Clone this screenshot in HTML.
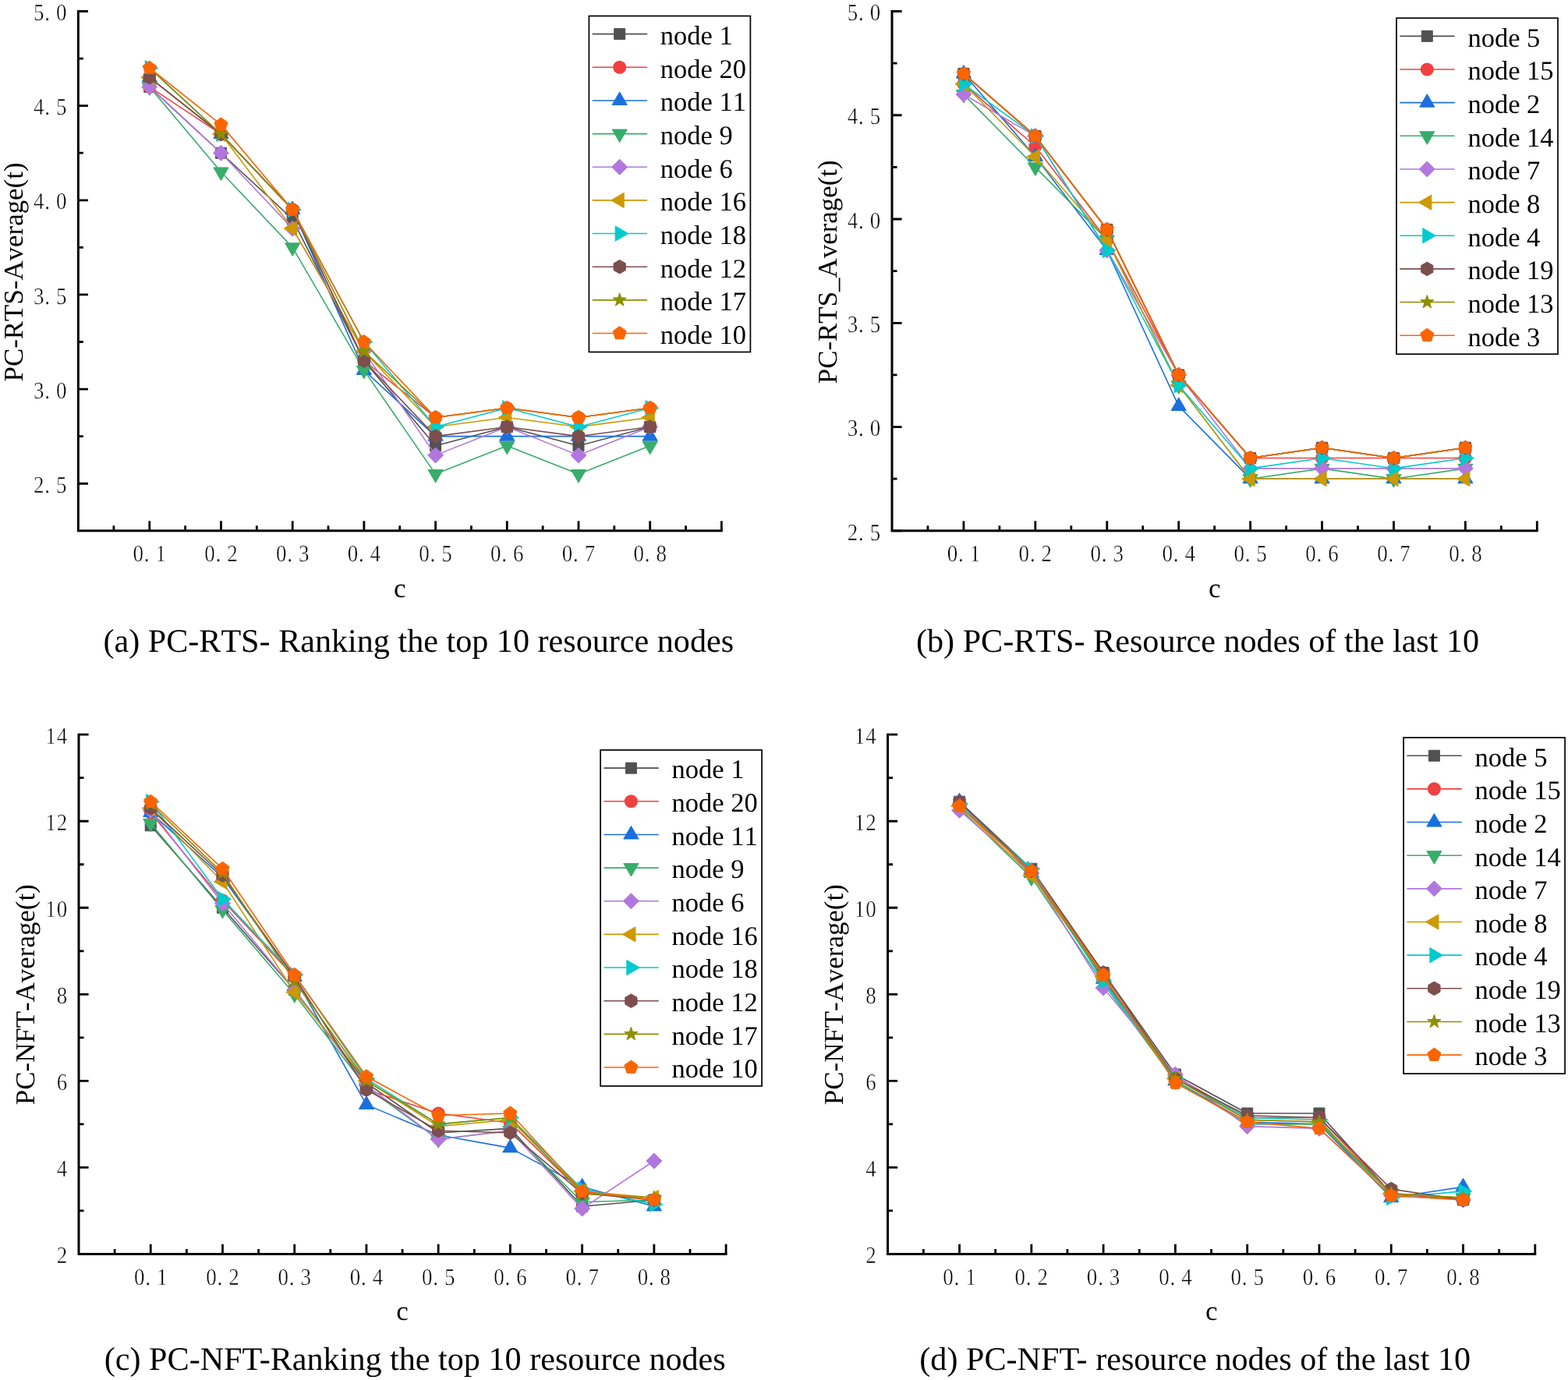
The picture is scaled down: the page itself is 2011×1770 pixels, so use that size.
<!DOCTYPE html>
<html lang="en">
<head>
<meta charset="utf-8">
<title>PC-RTS / PC-NFT average versus c</title>
<style>
html,body{margin:0;padding:0;background:#fff;}
body{width:2011px;height:1770px;overflow:hidden;}
svg{display:block;font-family:"Liberation Serif", serif;fill:#000;}
text{font-kerning:none;font-variant-ligatures:none;text-rendering:geometricPrecision;}
.ln{fill:none;stroke-width:1.6;stroke-linejoin:round;stroke-linecap:butt;}
.ax{fill:none;stroke:#000;stroke-width:3.0;stroke-linejoin:miter;stroke-linecap:butt;}
.tkl{fill:none;stroke:#000;stroke-width:2.8;stroke-linecap:butt;}
.tk{font-size:29px;text-anchor:middle;stroke:#fff;stroke-width:0.45;}
.xt{font-size:35px;text-anchor:middle;}
.yt{font-size:34.9px;text-anchor:middle;}
.lg{font-size:34.5px;}
.cap{font-size:42.15px;}
.lb{fill:#fff;stroke:#000;stroke-width:1.7;}
.mk{stroke-width:1;stroke-linejoin:round;}
.ll{stroke-linecap:round;}
</style>
</head>
<body>
<svg xmlns="http://www.w3.org/2000/svg" width="2011" height="1770" viewBox="0 0 2011 1770">
<rect width="2011" height="1770" fill="#fff"/>
<g id="panel-a">
<g class="series">
<polyline class="ln" stroke="#515151" points="191.76,111.42 283.46,196.22 375.17,281.02 466.87,462.74 558.58,571.77 650.28,547.54 741.99,571.77 833.69,547.54"/>
<rect class="mk" x="184.76" y="104.42" width="14" height="14" fill="#515151" stroke="#515151"/>
<rect class="mk" x="276.46" y="189.22" width="14" height="14" fill="#515151" stroke="#515151"/>
<rect class="mk" x="368.17" y="274.02" width="14" height="14" fill="#515151" stroke="#515151"/>
<rect class="mk" x="459.87" y="455.74" width="14" height="14" fill="#515151" stroke="#515151"/>
<rect class="mk" x="551.58" y="564.77" width="14" height="14" fill="#515151" stroke="#515151"/>
<rect class="mk" x="643.28" y="540.54" width="14" height="14" fill="#515151" stroke="#515151"/>
<rect class="mk" x="734.99" y="564.77" width="14" height="14" fill="#515151" stroke="#515151"/>
<rect class="mk" x="826.69" y="540.54" width="14" height="14" fill="#515151" stroke="#515151"/>
<polyline class="ln" stroke="#F14040" points="191.76,111.42 283.46,171.99 375.17,268.91 466.87,462.74 558.58,535.43 650.28,523.31 741.99,535.43 833.69,523.31"/>
<circle cx="191.76" cy="111.42" r="8.55" fill="#F14040"/>
<circle cx="283.46" cy="171.99" r="8.55" fill="#F14040"/>
<circle cx="375.17" cy="268.91" r="8.55" fill="#F14040"/>
<circle cx="466.87" cy="462.74" r="8.55" fill="#F14040"/>
<circle cx="558.58" cy="535.43" r="8.55" fill="#F14040"/>
<circle cx="650.28" cy="523.31" r="8.55" fill="#F14040"/>
<circle cx="741.99" cy="535.43" r="8.55" fill="#F14040"/>
<circle cx="833.69" cy="523.31" r="8.55" fill="#F14040"/>
<polyline class="ln" stroke="#1A6FDF" points="191.76,99.3 283.46,171.99 375.17,268.91 466.87,474.85 558.58,559.65 650.28,559.65 741.99,559.65 833.69,559.65"/>
<polygon class="mk" points="191.76,88.3 201.36,104.85 182.16,104.85" fill="#1A6FDF" stroke="#1A6FDF"/>
<polygon class="mk" points="283.46,160.99 293.06,177.54 273.86,177.54" fill="#1A6FDF" stroke="#1A6FDF"/>
<polygon class="mk" points="375.17,257.91 384.77,274.46 365.57,274.46" fill="#1A6FDF" stroke="#1A6FDF"/>
<polygon class="mk" points="466.87,463.85 476.47,480.4 457.27,480.4" fill="#1A6FDF" stroke="#1A6FDF"/>
<polygon class="mk" points="558.58,548.65 568.18,565.2 548.98,565.2" fill="#1A6FDF" stroke="#1A6FDF"/>
<polygon class="mk" points="650.28,548.65 659.88,565.2 640.68,565.2" fill="#1A6FDF" stroke="#1A6FDF"/>
<polygon class="mk" points="741.99,548.65 751.59,565.2 732.39,565.2" fill="#1A6FDF" stroke="#1A6FDF"/>
<polygon class="mk" points="833.69,548.65 843.29,565.2 824.09,565.2" fill="#1A6FDF" stroke="#1A6FDF"/>
<polyline class="ln" stroke="#37AD6B" points="191.76,111.42 283.46,220.45 375.17,317.36 466.87,474.85 558.58,608.11 650.28,571.77 741.99,608.11 833.69,571.77"/>
<polygon class="mk" points="191.76,122.42 201.36,105.87 182.16,105.87" fill="#37AD6B" stroke="#37AD6B"/>
<polygon class="mk" points="283.46,231.45 293.06,214.9 273.86,214.9" fill="#37AD6B" stroke="#37AD6B"/>
<polygon class="mk" points="375.17,328.36 384.77,311.81 365.57,311.81" fill="#37AD6B" stroke="#37AD6B"/>
<polygon class="mk" points="466.87,485.85 476.47,469.3 457.27,469.3" fill="#37AD6B" stroke="#37AD6B"/>
<polygon class="mk" points="558.58,619.11 568.18,602.56 548.98,602.56" fill="#37AD6B" stroke="#37AD6B"/>
<polygon class="mk" points="650.28,582.77 659.88,566.22 640.68,566.22" fill="#37AD6B" stroke="#37AD6B"/>
<polygon class="mk" points="741.99,619.11 751.59,602.56 732.39,602.56" fill="#37AD6B" stroke="#37AD6B"/>
<polygon class="mk" points="833.69,582.77 843.29,566.22 824.09,566.22" fill="#37AD6B" stroke="#37AD6B"/>
<polyline class="ln" stroke="#B177DE" points="191.76,111.42 283.46,196.22 375.17,293.13 466.87,450.62 558.58,583.88 650.28,547.54 741.99,583.88 833.69,547.54"/>
<polygon class="mk" points="191.76,101.42 201.76,111.42 191.76,121.42 181.76,111.42" fill="#B177DE" stroke="#B177DE"/>
<polygon class="mk" points="283.46,186.22 293.46,196.22 283.46,206.22 273.46,196.22" fill="#B177DE" stroke="#B177DE"/>
<polygon class="mk" points="375.17,283.13 385.17,293.13 375.17,303.13 365.17,293.13" fill="#B177DE" stroke="#B177DE"/>
<polygon class="mk" points="466.87,440.62 476.87,450.62 466.87,460.62 456.87,450.62" fill="#B177DE" stroke="#B177DE"/>
<polygon class="mk" points="558.58,573.88 568.58,583.88 558.58,593.88 548.58,583.88" fill="#B177DE" stroke="#B177DE"/>
<polygon class="mk" points="650.28,537.54 660.28,547.54 650.28,557.54 640.28,547.54" fill="#B177DE" stroke="#B177DE"/>
<polygon class="mk" points="741.99,573.88 751.99,583.88 741.99,593.88 731.99,583.88" fill="#B177DE" stroke="#B177DE"/>
<polygon class="mk" points="833.69,537.54 843.69,547.54 833.69,557.54 823.69,547.54" fill="#B177DE" stroke="#B177DE"/>
<polyline class="ln" stroke="#CC9900" points="191.76,99.3 283.46,171.99 375.17,293.13 466.87,450.62 558.58,547.54 650.28,535.43 741.99,547.54 833.69,535.43"/>
<polygon class="mk" points="180.76,99.3 197.31,89.7 197.31,108.9" fill="#CC9900" stroke="#CC9900"/>
<polygon class="mk" points="272.46,171.99 289.01,162.39 289.01,181.59" fill="#CC9900" stroke="#CC9900"/>
<polygon class="mk" points="364.17,293.13 380.72,283.53 380.72,302.73" fill="#CC9900" stroke="#CC9900"/>
<polygon class="mk" points="455.87,450.62 472.42,441.02 472.42,460.22" fill="#CC9900" stroke="#CC9900"/>
<polygon class="mk" points="547.58,547.54 564.13,537.94 564.13,557.14" fill="#CC9900" stroke="#CC9900"/>
<polygon class="mk" points="639.28,535.43 655.83,525.83 655.83,545.03" fill="#CC9900" stroke="#CC9900"/>
<polygon class="mk" points="730.99,547.54 747.54,537.94 747.54,557.14" fill="#CC9900" stroke="#CC9900"/>
<polygon class="mk" points="822.69,535.43 839.24,525.83 839.24,545.03" fill="#CC9900" stroke="#CC9900"/>
<polyline class="ln" stroke="#00CBCC" points="191.76,87.19 283.46,171.99 375.17,268.91 466.87,438.51 558.58,547.54 650.28,523.31 741.99,547.54 833.69,523.31"/>
<polygon class="mk" points="202.76,87.19 186.21,77.59 186.21,96.79" fill="#00CBCC" stroke="#00CBCC"/>
<polygon class="mk" points="294.46,171.99 277.91,162.39 277.91,181.59" fill="#00CBCC" stroke="#00CBCC"/>
<polygon class="mk" points="386.17,268.91 369.62,259.31 369.62,278.51" fill="#00CBCC" stroke="#00CBCC"/>
<polygon class="mk" points="477.87,438.51 461.32,428.91 461.32,448.11" fill="#00CBCC" stroke="#00CBCC"/>
<polygon class="mk" points="569.58,547.54 553.03,537.94 553.03,557.14" fill="#00CBCC" stroke="#00CBCC"/>
<polygon class="mk" points="661.28,523.31 644.73,513.71 644.73,532.91" fill="#00CBCC" stroke="#00CBCC"/>
<polygon class="mk" points="752.99,547.54 736.44,537.94 736.44,557.14" fill="#00CBCC" stroke="#00CBCC"/>
<polygon class="mk" points="844.69,523.31 828.14,513.71 828.14,532.91" fill="#00CBCC" stroke="#00CBCC"/>
<polyline class="ln" stroke="#7D4E4E" points="191.76,99.3 283.46,171.99 375.17,268.91 466.87,462.74 558.58,559.65 650.28,547.54 741.99,559.65 833.69,547.54"/>
<polygon class="mk" points="191.76,90.5 199.38,94.9 199.38,103.7 191.76,108.1 184.13,103.7 184.13,94.9" fill="#7D4E4E" stroke="#7D4E4E"/>
<polygon class="mk" points="283.46,163.19 291.08,167.59 291.08,176.39 283.46,180.79 275.84,176.39 275.84,167.59" fill="#7D4E4E" stroke="#7D4E4E"/>
<polygon class="mk" points="375.17,260.11 382.79,264.51 382.79,273.31 375.17,277.71 367.55,273.31 367.55,264.51" fill="#7D4E4E" stroke="#7D4E4E"/>
<polygon class="mk" points="466.87,453.94 474.49,458.34 474.49,467.14 466.87,471.54 459.25,467.14 459.25,458.34" fill="#7D4E4E" stroke="#7D4E4E"/>
<polygon class="mk" points="558.58,550.85 566.2,555.25 566.2,564.05 558.58,568.45 550.96,564.05 550.96,555.25" fill="#7D4E4E" stroke="#7D4E4E"/>
<polygon class="mk" points="650.28,538.74 657.9,543.14 657.9,551.94 650.28,556.34 642.66,551.94 642.66,543.14" fill="#7D4E4E" stroke="#7D4E4E"/>
<polygon class="mk" points="741.99,550.85 749.61,555.25 749.61,564.05 741.99,568.45 734.37,564.05 734.37,555.25" fill="#7D4E4E" stroke="#7D4E4E"/>
<polygon class="mk" points="833.69,538.74 841.32,543.14 841.32,551.94 833.69,556.34 826.07,551.94 826.07,543.14" fill="#7D4E4E" stroke="#7D4E4E"/>
<polyline class="ln" stroke="#8E8E00" points="191.76,87.19 283.46,171.99 375.17,268.91 466.87,450.62 558.58,535.43 650.28,523.31 741.99,535.43 833.69,523.31"/>
<polygon class="mk" points="191.76,78.09 193.9,84.23 200.41,84.38 195.23,88.32 197.1,94.55 191.76,90.84 186.41,94.55 188.28,88.32 183.1,84.38 189.61,84.23" fill="#8E8E00" stroke="#8E8E00"/>
<polygon class="mk" points="283.46,162.89 285.61,169.04 292.12,169.18 286.93,173.12 288.81,179.35 283.46,175.64 278.11,179.35 279.99,173.12 274.81,169.18 281.32,169.04" fill="#8E8E00" stroke="#8E8E00"/>
<polygon class="mk" points="375.17,259.81 377.31,265.95 383.82,266.09 378.64,270.03 380.52,276.27 375.17,272.56 369.82,276.27 371.7,270.03 366.51,266.09 373.02,265.95" fill="#8E8E00" stroke="#8E8E00"/>
<polygon class="mk" points="466.87,441.52 469.02,447.67 475.53,447.81 470.34,451.75 472.22,457.99 466.87,454.27 461.52,457.99 463.4,451.75 458.22,447.81 464.73,447.67" fill="#8E8E00" stroke="#8E8E00"/>
<polygon class="mk" points="558.58,526.33 560.72,532.47 567.23,532.61 562.05,536.55 563.93,542.79 558.58,539.08 553.23,542.79 555.11,536.55 549.92,532.61 556.43,532.47" fill="#8E8E00" stroke="#8E8E00"/>
<polygon class="mk" points="650.28,514.21 652.43,520.36 658.94,520.5 653.75,524.44 655.63,530.67 650.28,526.96 644.93,530.67 646.81,524.44 641.63,520.5 648.14,520.36" fill="#8E8E00" stroke="#8E8E00"/>
<polygon class="mk" points="741.99,526.33 744.13,532.47 750.64,532.61 745.46,536.55 747.34,542.79 741.99,539.08 736.64,542.79 738.52,536.55 733.33,532.61 739.84,532.47" fill="#8E8E00" stroke="#8E8E00"/>
<polygon class="mk" points="833.69,514.21 835.84,520.36 842.35,520.5 837.17,524.44 839.04,530.67 833.69,526.96 828.35,530.67 830.22,524.44 825.04,520.5 831.55,520.36" fill="#8E8E00" stroke="#8E8E00"/>
<polyline class="ln" stroke="#FB6501" points="191.76,87.19 283.46,159.87 375.17,268.91 466.87,438.51 558.58,535.43 650.28,523.31 741.99,535.43 833.69,523.31"/>
<polygon class="mk" points="191.76,78.19 200.32,84.41 197.05,94.47 186.47,94.47 183.2,84.41" fill="#FB6501" stroke="#FB6501"/>
<polygon class="mk" points="283.46,150.87 292.02,157.09 288.75,167.16 278.17,167.16 274.9,157.09" fill="#FB6501" stroke="#FB6501"/>
<polygon class="mk" points="375.17,259.91 383.73,266.12 380.46,276.19 369.88,276.19 366.61,266.12" fill="#FB6501" stroke="#FB6501"/>
<polygon class="mk" points="466.87,429.51 475.43,435.73 472.16,445.79 461.58,445.79 458.31,435.73" fill="#FB6501" stroke="#FB6501"/>
<polygon class="mk" points="558.58,526.43 567.14,532.64 563.87,542.71 553.29,542.71 550.02,532.64" fill="#FB6501" stroke="#FB6501"/>
<polygon class="mk" points="650.28,514.31 658.84,520.53 655.57,530.59 644.99,530.59 641.72,520.53" fill="#FB6501" stroke="#FB6501"/>
<polygon class="mk" points="741.99,526.43 750.55,532.64 747.28,542.71 736.7,542.71 733.43,532.64" fill="#FB6501" stroke="#FB6501"/>
<polygon class="mk" points="833.69,514.31 842.25,520.53 838.98,530.59 828.4,530.59 825.13,520.53" fill="#FB6501" stroke="#FB6501"/>
</g>
<path class="ax" d="M100.35 13.1V680.8H926.8"/>
<path class="tkl" d="M100.35 14.5h12.6M100.35 135.65h12.6M100.35 256.79h12.6M100.35 377.94h12.6M100.35 499.08h12.6M100.35 620.23h12.6M100.35 75.07h6.5M100.35 196.22h6.5M100.35 317.36h6.5M100.35 438.51h6.5M100.35 559.65h6.5M145.9 680.8v-6.5M191.76 680.8v-12.6M237.61 680.8v-6.5M283.46 680.8v-12.6M329.31 680.8v-6.5M375.17 680.8v-12.6M421.02 680.8v-6.5M466.87 680.8v-12.6M512.73 680.8v-6.5M558.58 680.8v-12.6M604.43 680.8v-6.5M650.28 680.8v-12.6M696.14 680.8v-6.5M741.99 680.8v-12.6M787.84 680.8v-6.5M833.69 680.8v-12.6M879.55 680.8v-6.5M925.4 680.8v-12.6"/>
<text class="tk" transform="translate(64.3 26.2) scale(0.93 1.05)" x="-15.59 -3.87 15.59" y="0">5.0</text>
<text class="tk" transform="translate(64.3 147.35) scale(0.93 1.05)" x="-15.59 -3.87 15.59" y="0">4.5</text>
<text class="tk" transform="translate(64.3 268.49) scale(0.93 1.05)" x="-15.59 -3.87 15.59" y="0">4.0</text>
<text class="tk" transform="translate(64.3 389.64) scale(0.93 1.05)" x="-15.59 -3.87 15.59" y="0">3.5</text>
<text class="tk" transform="translate(64.3 510.78) scale(0.93 1.05)" x="-15.59 -3.87 15.59" y="0">3.0</text>
<text class="tk" transform="translate(64.3 631.93) scale(0.93 1.05)" x="-15.59 -3.87 15.59" y="0">2.5</text>
<text class="tk" transform="translate(191.76 720.4) scale(0.93 1.05)" x="-15.59 -3.87 15.59" y="0">0.1</text>
<text class="tk" transform="translate(283.46 720.4) scale(0.93 1.05)" x="-15.59 -3.87 15.59" y="0">0.2</text>
<text class="tk" transform="translate(375.17 720.4) scale(0.93 1.05)" x="-15.59 -3.87 15.59" y="0">0.3</text>
<text class="tk" transform="translate(466.87 720.4) scale(0.93 1.05)" x="-15.59 -3.87 15.59" y="0">0.4</text>
<text class="tk" transform="translate(558.58 720.4) scale(0.93 1.05)" x="-15.59 -3.87 15.59" y="0">0.5</text>
<text class="tk" transform="translate(650.28 720.4) scale(0.93 1.05)" x="-15.59 -3.87 15.59" y="0">0.6</text>
<text class="tk" transform="translate(741.99 720.4) scale(0.93 1.05)" x="-15.59 -3.87 15.59" y="0">0.7</text>
<text class="tk" transform="translate(833.69 720.4) scale(0.93 1.05)" x="-15.59 -3.87 15.59" y="0">0.8</text>
<text class="xt" x="512.88" y="765.8">c</text>
<text class="yt" transform="translate(28.7 349) rotate(-90)">PC-RTS-Average(t)</text>
<text class="cap" x="132.4" y="835.6">(a) PC-RTS- Ranking the top 10 resource nodes</text>
<g class="legend">
<rect class="lb" x="755.4" y="20.5" width="207" height="431"/>
<path class="ln ll" stroke="#515151" d="M760.3 43.65H829.5"/>
<rect class="mk" x="787.7" y="36.65" width="14" height="14" fill="#515151" stroke="#515151"/>
<text class="lg" x="846.8" y="56.95">node 1</text>
<path class="ln ll" stroke="#F14040" d="M760.3 86.3H829.5"/>
<circle cx="794.7" cy="86.3" r="8.55" fill="#F14040"/>
<text class="lg" x="846.8" y="99.6">node 20</text>
<path class="ln ll" stroke="#1A6FDF" d="M760.3 128.95H829.5"/>
<polygon class="mk" points="794.7,117.95 804.3,134.5 785.1,134.5" fill="#1A6FDF" stroke="#1A6FDF"/>
<text class="lg" x="846.8" y="142.25">node 11</text>
<path class="ln ll" stroke="#37AD6B" d="M760.3 171.6H829.5"/>
<polygon class="mk" points="794.7,182.6 804.3,166.05 785.1,166.05" fill="#37AD6B" stroke="#37AD6B"/>
<text class="lg" x="846.8" y="184.9">node 9</text>
<path class="ln ll" stroke="#B177DE" d="M760.3 214.25H829.5"/>
<polygon class="mk" points="794.7,204.25 804.7,214.25 794.7,224.25 784.7,214.25" fill="#B177DE" stroke="#B177DE"/>
<text class="lg" x="846.8" y="227.55">node 6</text>
<path class="ln ll" stroke="#CC9900" d="M760.3 256.9H829.5"/>
<polygon class="mk" points="783.7,256.9 800.25,247.3 800.25,266.5" fill="#CC9900" stroke="#CC9900"/>
<text class="lg" x="846.8" y="270.2">node 16</text>
<path class="ln ll" stroke="#00CBCC" d="M760.3 299.55H829.5"/>
<polygon class="mk" points="805.7,299.55 789.15,289.95 789.15,309.15" fill="#00CBCC" stroke="#00CBCC"/>
<text class="lg" x="846.8" y="312.85">node 18</text>
<path class="ln ll" stroke="#7D4E4E" d="M760.3 342.2H829.5"/>
<polygon class="mk" points="794.7,333.4 802.32,337.8 802.32,346.6 794.7,351 787.08,346.6 787.08,337.8" fill="#7D4E4E" stroke="#7D4E4E"/>
<text class="lg" x="846.8" y="355.5">node 12</text>
<path class="ln ll" stroke="#8E8E00" d="M760.3 384.85H829.5"/>
<polygon class="mk" points="794.7,375.75 796.85,381.9 803.35,382.04 798.17,385.98 800.05,392.21 794.7,388.5 789.35,392.21 791.23,385.98 786.05,382.04 792.55,381.9" fill="#8E8E00" stroke="#8E8E00"/>
<text class="lg" x="846.8" y="398.15">node 17</text>
<path class="ln ll" stroke="#FB6501" d="M760.3 427.5H829.5"/>
<polygon class="mk" points="794.7,418.5 803.26,424.72 799.99,434.78 789.41,434.78 786.14,424.72" fill="#FB6501" stroke="#FB6501"/>
<text class="lg" x="846.8" y="440.8">node 10</text>
</g>
</g>
<g id="panel-b">
<g class="series">
<polyline class="ln" stroke="#515151" points="1235.92,94.46 1327.84,174.41 1419.77,294.35 1511.69,480.91 1603.61,587.52 1695.53,574.19 1787.46,587.52 1879.38,574.19"/>
<rect class="mk" x="1228.92" y="87.46" width="14" height="14" fill="#515151" stroke="#515151"/>
<rect class="mk" x="1320.84" y="167.41" width="14" height="14" fill="#515151" stroke="#515151"/>
<rect class="mk" x="1412.77" y="287.35" width="14" height="14" fill="#515151" stroke="#515151"/>
<rect class="mk" x="1504.69" y="473.91" width="14" height="14" fill="#515151" stroke="#515151"/>
<rect class="mk" x="1596.61" y="580.52" width="14" height="14" fill="#515151" stroke="#515151"/>
<rect class="mk" x="1688.53" y="567.19" width="14" height="14" fill="#515151" stroke="#515151"/>
<rect class="mk" x="1780.46" y="580.52" width="14" height="14" fill="#515151" stroke="#515151"/>
<rect class="mk" x="1872.38" y="567.19" width="14" height="14" fill="#515151" stroke="#515151"/>
<polyline class="ln" stroke="#F14040" points="1235.92,107.78 1327.84,187.74 1419.77,307.67 1511.69,480.91 1603.61,587.52 1695.53,587.52 1787.46,587.52 1879.38,587.52"/>
<circle cx="1235.92" cy="107.78" r="8.55" fill="#F14040"/>
<circle cx="1327.84" cy="187.74" r="8.55" fill="#F14040"/>
<circle cx="1419.77" cy="307.67" r="8.55" fill="#F14040"/>
<circle cx="1511.69" cy="480.91" r="8.55" fill="#F14040"/>
<circle cx="1603.61" cy="587.52" r="8.55" fill="#F14040"/>
<circle cx="1695.53" cy="587.52" r="8.55" fill="#F14040"/>
<circle cx="1787.46" cy="587.52" r="8.55" fill="#F14040"/>
<circle cx="1879.38" cy="587.52" r="8.55" fill="#F14040"/>
<polyline class="ln" stroke="#1A6FDF" points="1235.92,94.46 1327.84,201.06 1419.77,321 1511.69,520.89 1603.61,614.17 1695.53,614.17 1787.46,614.17 1879.38,614.17"/>
<polygon class="mk" points="1235.92,83.46 1245.52,100.01 1226.32,100.01" fill="#1A6FDF" stroke="#1A6FDF"/>
<polygon class="mk" points="1327.84,190.06 1337.44,206.61 1318.24,206.61" fill="#1A6FDF" stroke="#1A6FDF"/>
<polygon class="mk" points="1419.77,310 1429.37,326.55 1410.17,326.55" fill="#1A6FDF" stroke="#1A6FDF"/>
<polygon class="mk" points="1511.69,509.89 1521.29,526.44 1502.09,526.44" fill="#1A6FDF" stroke="#1A6FDF"/>
<polygon class="mk" points="1603.61,603.17 1613.21,619.72 1594.01,619.72" fill="#1A6FDF" stroke="#1A6FDF"/>
<polygon class="mk" points="1695.53,603.17 1705.13,619.72 1685.93,619.72" fill="#1A6FDF" stroke="#1A6FDF"/>
<polygon class="mk" points="1787.46,603.17 1797.06,619.72 1777.86,619.72" fill="#1A6FDF" stroke="#1A6FDF"/>
<polygon class="mk" points="1879.38,603.17 1888.98,619.72 1869.78,619.72" fill="#1A6FDF" stroke="#1A6FDF"/>
<polyline class="ln" stroke="#37AD6B" points="1235.92,121.11 1327.84,214.39 1419.77,307.67 1511.69,494.24 1603.61,614.17 1695.53,600.84 1787.46,614.17 1879.38,600.84"/>
<polygon class="mk" points="1235.92,132.11 1245.52,115.56 1226.32,115.56" fill="#37AD6B" stroke="#37AD6B"/>
<polygon class="mk" points="1327.84,225.39 1337.44,208.84 1318.24,208.84" fill="#37AD6B" stroke="#37AD6B"/>
<polygon class="mk" points="1419.77,318.67 1429.37,302.12 1410.17,302.12" fill="#37AD6B" stroke="#37AD6B"/>
<polygon class="mk" points="1511.69,505.24 1521.29,488.69 1502.09,488.69" fill="#37AD6B" stroke="#37AD6B"/>
<polygon class="mk" points="1603.61,625.17 1613.21,608.62 1594.01,608.62" fill="#37AD6B" stroke="#37AD6B"/>
<polygon class="mk" points="1695.53,611.84 1705.13,595.29 1685.93,595.29" fill="#37AD6B" stroke="#37AD6B"/>
<polygon class="mk" points="1787.46,625.17 1797.06,608.62 1777.86,608.62" fill="#37AD6B" stroke="#37AD6B"/>
<polygon class="mk" points="1879.38,611.84 1888.98,595.29 1869.78,595.29" fill="#37AD6B" stroke="#37AD6B"/>
<polyline class="ln" stroke="#B177DE" points="1235.92,121.11 1327.84,174.41 1419.77,321 1511.69,480.91 1603.61,600.84 1695.53,600.84 1787.46,600.84 1879.38,600.84"/>
<polygon class="mk" points="1235.92,111.11 1245.92,121.11 1235.92,131.11 1225.92,121.11" fill="#B177DE" stroke="#B177DE"/>
<polygon class="mk" points="1327.84,164.41 1337.84,174.41 1327.84,184.41 1317.84,174.41" fill="#B177DE" stroke="#B177DE"/>
<polygon class="mk" points="1419.77,311 1429.77,321 1419.77,331 1409.77,321" fill="#B177DE" stroke="#B177DE"/>
<polygon class="mk" points="1511.69,470.91 1521.69,480.91 1511.69,490.91 1501.69,480.91" fill="#B177DE" stroke="#B177DE"/>
<polygon class="mk" points="1603.61,590.84 1613.61,600.84 1603.61,610.84 1593.61,600.84" fill="#B177DE" stroke="#B177DE"/>
<polygon class="mk" points="1695.53,590.84 1705.53,600.84 1695.53,610.84 1685.53,600.84" fill="#B177DE" stroke="#B177DE"/>
<polygon class="mk" points="1787.46,590.84 1797.46,600.84 1787.46,610.84 1777.46,600.84" fill="#B177DE" stroke="#B177DE"/>
<polygon class="mk" points="1879.38,590.84 1889.38,600.84 1879.38,610.84 1869.38,600.84" fill="#B177DE" stroke="#B177DE"/>
<polyline class="ln" stroke="#CC9900" points="1235.92,107.78 1327.84,201.06 1419.77,307.67 1511.69,494.24 1603.61,614.17 1695.53,614.17 1787.46,614.17 1879.38,614.17"/>
<polygon class="mk" points="1224.92,107.78 1241.47,98.18 1241.47,117.38" fill="#CC9900" stroke="#CC9900"/>
<polygon class="mk" points="1316.84,201.06 1333.39,191.46 1333.39,210.66" fill="#CC9900" stroke="#CC9900"/>
<polygon class="mk" points="1408.77,307.67 1425.32,298.07 1425.32,317.27" fill="#CC9900" stroke="#CC9900"/>
<polygon class="mk" points="1500.69,494.24 1517.24,484.64 1517.24,503.84" fill="#CC9900" stroke="#CC9900"/>
<polygon class="mk" points="1592.61,614.17 1609.16,604.57 1609.16,623.77" fill="#CC9900" stroke="#CC9900"/>
<polygon class="mk" points="1684.53,614.17 1701.08,604.57 1701.08,623.77" fill="#CC9900" stroke="#CC9900"/>
<polygon class="mk" points="1776.46,614.17 1793.01,604.57 1793.01,623.77" fill="#CC9900" stroke="#CC9900"/>
<polygon class="mk" points="1868.38,614.17 1884.93,604.57 1884.93,623.77" fill="#CC9900" stroke="#CC9900"/>
<polyline class="ln" stroke="#00CBCC" points="1235.92,107.78 1327.84,174.41 1419.77,321 1511.69,494.24 1603.61,600.84 1695.53,587.52 1787.46,600.84 1879.38,587.52"/>
<polygon class="mk" points="1246.92,107.78 1230.37,98.18 1230.37,117.38" fill="#00CBCC" stroke="#00CBCC"/>
<polygon class="mk" points="1338.84,174.41 1322.29,164.81 1322.29,184.01" fill="#00CBCC" stroke="#00CBCC"/>
<polygon class="mk" points="1430.77,321 1414.22,311.4 1414.22,330.6" fill="#00CBCC" stroke="#00CBCC"/>
<polygon class="mk" points="1522.69,494.24 1506.14,484.64 1506.14,503.84" fill="#00CBCC" stroke="#00CBCC"/>
<polygon class="mk" points="1614.61,600.84 1598.06,591.24 1598.06,610.44" fill="#00CBCC" stroke="#00CBCC"/>
<polygon class="mk" points="1706.53,587.52 1689.98,577.92 1689.98,597.12" fill="#00CBCC" stroke="#00CBCC"/>
<polygon class="mk" points="1798.46,600.84 1781.91,591.24 1781.91,610.44" fill="#00CBCC" stroke="#00CBCC"/>
<polygon class="mk" points="1890.38,587.52 1873.83,577.92 1873.83,597.12" fill="#00CBCC" stroke="#00CBCC"/>
<polyline class="ln" stroke="#7D4E4E" points="1235.92,94.46 1327.84,174.41 1419.77,294.35 1511.69,480.91 1603.61,587.52 1695.53,574.19 1787.46,587.52 1879.38,574.19"/>
<polygon class="mk" points="1235.92,85.66 1243.54,90.06 1243.54,98.86 1235.92,103.26 1228.3,98.86 1228.3,90.06" fill="#7D4E4E" stroke="#7D4E4E"/>
<polygon class="mk" points="1327.84,165.61 1335.47,170.01 1335.47,178.81 1327.84,183.21 1320.22,178.81 1320.22,170.01" fill="#7D4E4E" stroke="#7D4E4E"/>
<polygon class="mk" points="1419.77,285.55 1427.39,289.95 1427.39,298.75 1419.77,303.15 1412.15,298.75 1412.15,289.95" fill="#7D4E4E" stroke="#7D4E4E"/>
<polygon class="mk" points="1511.69,472.11 1519.31,476.51 1519.31,485.31 1511.69,489.71 1504.07,485.31 1504.07,476.51" fill="#7D4E4E" stroke="#7D4E4E"/>
<polygon class="mk" points="1603.61,578.72 1611.23,583.12 1611.23,591.92 1603.61,596.32 1595.99,591.92 1595.99,583.12" fill="#7D4E4E" stroke="#7D4E4E"/>
<polygon class="mk" points="1695.53,565.39 1703.15,569.79 1703.15,578.59 1695.53,582.99 1687.91,578.59 1687.91,569.79" fill="#7D4E4E" stroke="#7D4E4E"/>
<polygon class="mk" points="1787.46,578.72 1795.08,583.12 1795.08,591.92 1787.46,596.32 1779.83,591.92 1779.83,583.12" fill="#7D4E4E" stroke="#7D4E4E"/>
<polygon class="mk" points="1879.38,565.39 1887,569.79 1887,578.59 1879.38,582.99 1871.76,578.59 1871.76,569.79" fill="#7D4E4E" stroke="#7D4E4E"/>
<polyline class="ln" stroke="#8E8E00" points="1235.92,94.46 1327.84,174.41 1419.77,294.35 1511.69,480.91 1603.61,587.52 1695.53,574.19 1787.46,587.52 1879.38,574.19"/>
<polygon class="mk" points="1235.92,85.36 1238.07,91.5 1244.58,91.64 1239.39,95.58 1241.27,101.82 1235.92,98.11 1230.57,101.82 1232.45,95.58 1227.27,91.64 1233.78,91.5" fill="#8E8E00" stroke="#8E8E00"/>
<polygon class="mk" points="1327.84,165.31 1329.99,171.46 1336.5,171.6 1331.32,175.54 1333.19,181.77 1327.84,178.06 1322.5,181.77 1324.37,175.54 1319.19,171.6 1325.7,171.46" fill="#8E8E00" stroke="#8E8E00"/>
<polygon class="mk" points="1419.77,285.25 1421.91,291.39 1428.42,291.53 1423.24,295.47 1425.12,301.71 1419.77,298 1414.42,301.71 1416.3,295.47 1411.11,291.53 1417.62,291.39" fill="#8E8E00" stroke="#8E8E00"/>
<polygon class="mk" points="1511.69,471.81 1513.83,477.96 1520.34,478.1 1515.16,482.04 1517.04,488.27 1511.69,484.56 1506.34,488.27 1508.22,482.04 1503.03,478.1 1509.54,477.96" fill="#8E8E00" stroke="#8E8E00"/>
<polygon class="mk" points="1603.61,578.42 1605.76,584.57 1612.27,584.71 1607.08,588.65 1608.96,594.88 1603.61,591.17 1598.26,594.88 1600.14,588.65 1594.96,584.71 1601.47,584.57" fill="#8E8E00" stroke="#8E8E00"/>
<polygon class="mk" points="1695.53,565.09 1697.68,571.24 1704.19,571.38 1699,575.32 1700.88,581.55 1695.53,577.84 1690.18,581.55 1692.06,575.32 1686.88,571.38 1693.39,571.24" fill="#8E8E00" stroke="#8E8E00"/>
<polygon class="mk" points="1787.46,578.42 1789.6,584.57 1796.11,584.71 1790.93,588.65 1792.8,594.88 1787.46,591.17 1782.11,594.88 1783.98,588.65 1778.8,584.71 1785.31,584.57" fill="#8E8E00" stroke="#8E8E00"/>
<polygon class="mk" points="1879.38,565.09 1881.52,571.24 1888.03,571.38 1882.85,575.32 1884.73,581.55 1879.38,577.84 1874.03,581.55 1875.91,575.32 1870.72,571.38 1877.23,571.24" fill="#8E8E00" stroke="#8E8E00"/>
<polyline class="ln" stroke="#FB6501" points="1235.92,94.46 1327.84,174.41 1419.77,294.35 1511.69,480.91 1603.61,587.52 1695.53,574.19 1787.46,587.52 1879.38,574.19"/>
<polygon class="mk" points="1235.92,85.46 1244.48,91.67 1241.21,101.74 1230.63,101.74 1227.36,91.67" fill="#FB6501" stroke="#FB6501"/>
<polygon class="mk" points="1327.84,165.41 1336.4,171.63 1333.13,181.69 1322.55,181.69 1319.28,171.63" fill="#FB6501" stroke="#FB6501"/>
<polygon class="mk" points="1419.77,285.35 1428.33,291.56 1425.06,301.63 1414.48,301.63 1411.21,291.56" fill="#FB6501" stroke="#FB6501"/>
<polygon class="mk" points="1511.69,471.91 1520.25,478.13 1516.98,488.19 1506.4,488.19 1503.13,478.13" fill="#FB6501" stroke="#FB6501"/>
<polygon class="mk" points="1603.61,578.52 1612.17,584.74 1608.9,594.8 1598.32,594.8 1595.05,584.74" fill="#FB6501" stroke="#FB6501"/>
<polygon class="mk" points="1695.53,565.19 1704.09,571.41 1700.82,581.47 1690.24,581.47 1686.97,571.41" fill="#FB6501" stroke="#FB6501"/>
<polygon class="mk" points="1787.46,578.52 1796.02,584.74 1792.75,594.8 1782.17,594.8 1778.9,584.74" fill="#FB6501" stroke="#FB6501"/>
<polygon class="mk" points="1879.38,565.19 1887.94,571.41 1884.67,581.47 1874.09,581.47 1870.82,571.41" fill="#FB6501" stroke="#FB6501"/>
</g>
<path class="ax" d="M1144 13.1V680.8H1972.7"/>
<path class="tkl" d="M1144 14.5h12.6M1144 147.76h12.6M1144 281.02h12.6M1144 414.28h12.6M1144 547.54h12.6M1144 680.8h12.6M1144 81.13h6.5M1144 214.39h6.5M1144 347.65h6.5M1144 480.91h6.5M1144 614.17h6.5M1189.96 680.8v-6.5M1235.92 680.8v-12.6M1281.88 680.8v-6.5M1327.84 680.8v-12.6M1373.81 680.8v-6.5M1419.77 680.8v-12.6M1465.73 680.8v-6.5M1511.69 680.8v-12.6M1557.65 680.8v-6.5M1603.61 680.8v-12.6M1649.57 680.8v-6.5M1695.53 680.8v-12.6M1741.49 680.8v-6.5M1787.46 680.8v-12.6M1833.42 680.8v-6.5M1879.38 680.8v-12.6M1925.34 680.8v-6.5M1971.3 680.8v-12.6"/>
<text class="tk" transform="translate(1107.95 26.2) scale(0.93 1.05)" x="-15.59 -3.87 15.59" y="0">5.0</text>
<text class="tk" transform="translate(1107.95 159.46) scale(0.93 1.05)" x="-15.59 -3.87 15.59" y="0">4.5</text>
<text class="tk" transform="translate(1107.95 292.72) scale(0.93 1.05)" x="-15.59 -3.87 15.59" y="0">4.0</text>
<text class="tk" transform="translate(1107.95 425.98) scale(0.93 1.05)" x="-15.59 -3.87 15.59" y="0">3.5</text>
<text class="tk" transform="translate(1107.95 559.24) scale(0.93 1.05)" x="-15.59 -3.87 15.59" y="0">3.0</text>
<text class="tk" transform="translate(1107.95 692.5) scale(0.93 1.05)" x="-15.59 -3.87 15.59" y="0">2.5</text>
<text class="tk" transform="translate(1235.92 720.4) scale(0.93 1.05)" x="-15.59 -3.87 15.59" y="0">0.1</text>
<text class="tk" transform="translate(1327.84 720.4) scale(0.93 1.05)" x="-15.59 -3.87 15.59" y="0">0.2</text>
<text class="tk" transform="translate(1419.77 720.4) scale(0.93 1.05)" x="-15.59 -3.87 15.59" y="0">0.3</text>
<text class="tk" transform="translate(1511.69 720.4) scale(0.93 1.05)" x="-15.59 -3.87 15.59" y="0">0.4</text>
<text class="tk" transform="translate(1603.61 720.4) scale(0.93 1.05)" x="-15.59 -3.87 15.59" y="0">0.5</text>
<text class="tk" transform="translate(1695.53 720.4) scale(0.93 1.05)" x="-15.59 -3.87 15.59" y="0">0.6</text>
<text class="tk" transform="translate(1787.46 720.4) scale(0.93 1.05)" x="-15.59 -3.87 15.59" y="0">0.7</text>
<text class="tk" transform="translate(1879.38 720.4) scale(0.93 1.05)" x="-15.59 -3.87 15.59" y="0">0.8</text>
<text class="xt" x="1557.65" y="765.8">c</text>
<text class="yt" transform="translate(1073.4 348.8) rotate(-90)">PC-RTS_Average(t)</text>
<text class="cap" x="1175" y="835.6">(b) PC-RTS- Resource nodes of the last 10</text>
<g class="legend">
<rect class="lb" x="1791" y="23.2" width="207" height="431"/>
<path class="ln ll" stroke="#515151" d="M1795.9 46.35H1865.1"/>
<rect class="mk" x="1823.3" y="39.35" width="14" height="14" fill="#515151" stroke="#515151"/>
<text class="lg" x="1882.4" y="59.65">node 5</text>
<path class="ln ll" stroke="#F14040" d="M1795.9 89H1865.1"/>
<circle cx="1830.3" cy="89" r="8.55" fill="#F14040"/>
<text class="lg" x="1882.4" y="102.3">node 15</text>
<path class="ln ll" stroke="#1A6FDF" d="M1795.9 131.65H1865.1"/>
<polygon class="mk" points="1830.3,120.65 1839.9,137.2 1820.7,137.2" fill="#1A6FDF" stroke="#1A6FDF"/>
<text class="lg" x="1882.4" y="144.95">node 2</text>
<path class="ln ll" stroke="#37AD6B" d="M1795.9 174.3H1865.1"/>
<polygon class="mk" points="1830.3,185.3 1839.9,168.75 1820.7,168.75" fill="#37AD6B" stroke="#37AD6B"/>
<text class="lg" x="1882.4" y="187.6">node 14</text>
<path class="ln ll" stroke="#B177DE" d="M1795.9 216.95H1865.1"/>
<polygon class="mk" points="1830.3,206.95 1840.3,216.95 1830.3,226.95 1820.3,216.95" fill="#B177DE" stroke="#B177DE"/>
<text class="lg" x="1882.4" y="230.25">node 7</text>
<path class="ln ll" stroke="#CC9900" d="M1795.9 259.6H1865.1"/>
<polygon class="mk" points="1819.3,259.6 1835.85,250 1835.85,269.2" fill="#CC9900" stroke="#CC9900"/>
<text class="lg" x="1882.4" y="272.9">node 8</text>
<path class="ln ll" stroke="#00CBCC" d="M1795.9 302.25H1865.1"/>
<polygon class="mk" points="1841.3,302.25 1824.75,292.65 1824.75,311.85" fill="#00CBCC" stroke="#00CBCC"/>
<text class="lg" x="1882.4" y="315.55">node 4</text>
<path class="ln ll" stroke="#7D4E4E" d="M1795.9 344.9H1865.1"/>
<polygon class="mk" points="1830.3,336.1 1837.92,340.5 1837.92,349.3 1830.3,353.7 1822.68,349.3 1822.68,340.5" fill="#7D4E4E" stroke="#7D4E4E"/>
<text class="lg" x="1882.4" y="358.2">node 19</text>
<path class="ln ll" stroke="#8E8E00" d="M1795.9 387.55H1865.1"/>
<polygon class="mk" points="1830.3,378.45 1832.45,384.6 1838.95,384.74 1833.77,388.68 1835.65,394.91 1830.3,391.2 1824.95,394.91 1826.83,388.68 1821.65,384.74 1828.15,384.6" fill="#8E8E00" stroke="#8E8E00"/>
<text class="lg" x="1882.4" y="400.85">node 13</text>
<path class="ln ll" stroke="#FB6501" d="M1795.9 430.2H1865.1"/>
<polygon class="mk" points="1830.3,421.2 1838.86,427.42 1835.59,437.48 1825.01,437.48 1821.74,427.42" fill="#FB6501" stroke="#FB6501"/>
<text class="lg" x="1882.4" y="443.5">node 3</text>
</g>
</g>
<g id="panel-c">
<g class="series">
<polyline class="ln" stroke="#515151" points="193.23,1058.79 285.47,1164.27 377.7,1269.75 469.93,1389.11 562.17,1452.95 654.4,1447.4 746.63,1547.33 838.87,1539"/>
<rect class="mk" x="186.23" y="1051.79" width="14" height="14" fill="#515151" stroke="#515151"/>
<rect class="mk" x="278.47" y="1157.27" width="14" height="14" fill="#515151" stroke="#515151"/>
<rect class="mk" x="370.7" y="1262.75" width="14" height="14" fill="#515151" stroke="#515151"/>
<rect class="mk" x="462.93" y="1382.11" width="14" height="14" fill="#515151" stroke="#515151"/>
<rect class="mk" x="555.17" y="1445.95" width="14" height="14" fill="#515151" stroke="#515151"/>
<rect class="mk" x="647.4" y="1440.4" width="14" height="14" fill="#515151" stroke="#515151"/>
<rect class="mk" x="739.63" y="1540.33" width="14" height="14" fill="#515151" stroke="#515151"/>
<rect class="mk" x="831.87" y="1532" width="14" height="14" fill="#515151" stroke="#515151"/>
<polyline class="ln" stroke="#F14040" points="193.23,1042.13 285.47,1154.83 377.7,1253.09 469.93,1397.44 562.17,1427.97 654.4,1440.18 746.63,1529.57 838.87,1539"/>
<circle cx="193.23" cy="1042.13" r="8.55" fill="#F14040"/>
<circle cx="285.47" cy="1154.83" r="8.55" fill="#F14040"/>
<circle cx="377.7" cy="1253.09" r="8.55" fill="#F14040"/>
<circle cx="469.93" cy="1397.44" r="8.55" fill="#F14040"/>
<circle cx="562.17" cy="1427.97" r="8.55" fill="#F14040"/>
<circle cx="654.4" cy="1440.18" r="8.55" fill="#F14040"/>
<circle cx="746.63" cy="1529.57" r="8.55" fill="#F14040"/>
<circle cx="838.87" cy="1539" r="8.55" fill="#F14040"/>
<polyline class="ln" stroke="#1A6FDF" points="193.23,1042.13 285.47,1125.41 377.7,1253.09 469.93,1416.87 562.17,1455.73 654.4,1472.38 746.63,1522.35 838.87,1547.33"/>
<polygon class="mk" points="193.23,1031.13 202.83,1047.68 183.63,1047.68" fill="#1A6FDF" stroke="#1A6FDF"/>
<polygon class="mk" points="285.47,1114.41 295.07,1130.96 275.87,1130.96" fill="#1A6FDF" stroke="#1A6FDF"/>
<polygon class="mk" points="377.7,1242.09 387.3,1258.64 368.1,1258.64" fill="#1A6FDF" stroke="#1A6FDF"/>
<polygon class="mk" points="469.93,1405.87 479.53,1422.42 460.33,1422.42" fill="#1A6FDF" stroke="#1A6FDF"/>
<polygon class="mk" points="562.17,1444.73 571.77,1461.28 552.57,1461.28" fill="#1A6FDF" stroke="#1A6FDF"/>
<polygon class="mk" points="654.4,1461.38 664,1477.93 644.8,1477.93" fill="#1A6FDF" stroke="#1A6FDF"/>
<polygon class="mk" points="746.63,1511.35 756.23,1527.9 737.03,1527.9" fill="#1A6FDF" stroke="#1A6FDF"/>
<polygon class="mk" points="838.87,1536.33 848.47,1552.88 829.27,1552.88" fill="#1A6FDF" stroke="#1A6FDF"/>
<polyline class="ln" stroke="#37AD6B" points="193.23,1056.01 285.47,1167.04 377.7,1275.3 469.93,1394.66 562.17,1461.28 654.4,1450.18 746.63,1541.78 838.87,1539"/>
<polygon class="mk" points="193.23,1067.01 202.83,1050.46 183.63,1050.46" fill="#37AD6B" stroke="#37AD6B"/>
<polygon class="mk" points="285.47,1178.04 295.07,1161.49 275.87,1161.49" fill="#37AD6B" stroke="#37AD6B"/>
<polygon class="mk" points="377.7,1286.3 387.3,1269.75 368.1,1269.75" fill="#37AD6B" stroke="#37AD6B"/>
<polygon class="mk" points="469.93,1405.66 479.53,1389.11 460.33,1389.11" fill="#37AD6B" stroke="#37AD6B"/>
<polygon class="mk" points="562.17,1472.28 571.77,1455.73 552.57,1455.73" fill="#37AD6B" stroke="#37AD6B"/>
<polygon class="mk" points="654.4,1461.18 664,1444.63 644.8,1444.63" fill="#37AD6B" stroke="#37AD6B"/>
<polygon class="mk" points="746.63,1552.78 756.23,1536.23 737.03,1536.23" fill="#37AD6B" stroke="#37AD6B"/>
<polygon class="mk" points="838.87,1550 848.47,1533.45 829.27,1533.45" fill="#37AD6B" stroke="#37AD6B"/>
<polyline class="ln" stroke="#B177DE" points="193.23,1039.35 285.47,1158.72 377.7,1269.75 469.93,1391.88 562.17,1461.28 654.4,1450.18 746.63,1550.11 838.87,1489.04"/>
<polygon class="mk" points="193.23,1029.35 203.23,1039.35 193.23,1049.35 183.23,1039.35" fill="#B177DE" stroke="#B177DE"/>
<polygon class="mk" points="285.47,1148.72 295.47,1158.72 285.47,1168.72 275.47,1158.72" fill="#B177DE" stroke="#B177DE"/>
<polygon class="mk" points="377.7,1259.75 387.7,1269.75 377.7,1279.75 367.7,1269.75" fill="#B177DE" stroke="#B177DE"/>
<polygon class="mk" points="469.93,1381.88 479.93,1391.88 469.93,1401.88 459.93,1391.88" fill="#B177DE" stroke="#B177DE"/>
<polygon class="mk" points="562.17,1451.28 572.17,1461.28 562.17,1471.28 552.17,1461.28" fill="#B177DE" stroke="#B177DE"/>
<polygon class="mk" points="654.4,1440.18 664.4,1450.18 654.4,1460.18 644.4,1450.18" fill="#B177DE" stroke="#B177DE"/>
<polygon class="mk" points="746.63,1540.11 756.63,1550.11 746.63,1560.11 736.63,1550.11" fill="#B177DE" stroke="#B177DE"/>
<polygon class="mk" points="838.87,1479.04 848.87,1489.04 838.87,1499.04 828.87,1489.04" fill="#B177DE" stroke="#B177DE"/>
<polyline class="ln" stroke="#CC9900" points="193.23,1036.58 285.47,1130.96 377.7,1272.52 469.93,1386.33 562.17,1444.63 654.4,1436.3 746.63,1527.9 838.87,1536.23"/>
<polygon class="mk" points="182.23,1036.58 198.78,1026.98 198.78,1046.18" fill="#CC9900" stroke="#CC9900"/>
<polygon class="mk" points="274.47,1130.96 291.02,1121.36 291.02,1140.56" fill="#CC9900" stroke="#CC9900"/>
<polygon class="mk" points="366.7,1272.52 383.25,1262.92 383.25,1282.12" fill="#CC9900" stroke="#CC9900"/>
<polygon class="mk" points="458.93,1386.33 475.48,1376.73 475.48,1395.93" fill="#CC9900" stroke="#CC9900"/>
<polygon class="mk" points="551.17,1444.63 567.72,1435.03 567.72,1454.23" fill="#CC9900" stroke="#CC9900"/>
<polygon class="mk" points="643.4,1436.3 659.95,1426.7 659.95,1445.9" fill="#CC9900" stroke="#CC9900"/>
<polygon class="mk" points="735.63,1527.9 752.18,1518.3 752.18,1537.5" fill="#CC9900" stroke="#CC9900"/>
<polygon class="mk" points="827.87,1536.23 844.42,1526.63 844.42,1545.83" fill="#CC9900" stroke="#CC9900"/>
<polyline class="ln" stroke="#00CBCC" points="193.23,1028.25 285.47,1153.16 377.7,1250.32 469.93,1383.56 562.17,1441.85 654.4,1433.52 746.63,1525.12 838.87,1544.56"/>
<polygon class="mk" points="204.23,1028.25 187.68,1018.65 187.68,1037.85" fill="#00CBCC" stroke="#00CBCC"/>
<polygon class="mk" points="296.47,1153.16 279.92,1143.56 279.92,1162.76" fill="#00CBCC" stroke="#00CBCC"/>
<polygon class="mk" points="388.7,1250.32 372.15,1240.72 372.15,1259.92" fill="#00CBCC" stroke="#00CBCC"/>
<polygon class="mk" points="480.93,1383.56 464.38,1373.96 464.38,1393.16" fill="#00CBCC" stroke="#00CBCC"/>
<polygon class="mk" points="573.17,1441.85 556.62,1432.25 556.62,1451.45" fill="#00CBCC" stroke="#00CBCC"/>
<polygon class="mk" points="665.4,1433.52 648.85,1423.92 648.85,1443.12" fill="#00CBCC" stroke="#00CBCC"/>
<polygon class="mk" points="757.63,1525.12 741.08,1515.53 741.08,1534.72" fill="#00CBCC" stroke="#00CBCC"/>
<polygon class="mk" points="849.87,1544.56 833.32,1534.96 833.32,1554.16" fill="#00CBCC" stroke="#00CBCC"/>
<polyline class="ln" stroke="#7D4E4E" points="193.23,1036.58 285.47,1122.63 377.7,1253.09 469.93,1397.44 562.17,1450.18 654.4,1452.95 746.63,1530.68 838.87,1539"/>
<polygon class="mk" points="193.23,1027.78 200.85,1032.18 200.85,1040.98 193.23,1045.38 185.61,1040.98 185.61,1032.18" fill="#7D4E4E" stroke="#7D4E4E"/>
<polygon class="mk" points="285.47,1113.83 293.09,1118.23 293.09,1127.03 285.47,1131.43 277.85,1127.03 277.85,1118.23" fill="#7D4E4E" stroke="#7D4E4E"/>
<polygon class="mk" points="377.7,1244.29 385.32,1248.69 385.32,1257.49 377.7,1261.89 370.08,1257.49 370.08,1248.69" fill="#7D4E4E" stroke="#7D4E4E"/>
<polygon class="mk" points="469.93,1388.64 477.55,1393.04 477.55,1401.84 469.93,1406.24 462.31,1401.84 462.31,1393.04" fill="#7D4E4E" stroke="#7D4E4E"/>
<polygon class="mk" points="562.17,1441.38 569.79,1445.78 569.79,1454.58 562.17,1458.98 554.55,1454.58 554.55,1445.78" fill="#7D4E4E" stroke="#7D4E4E"/>
<polygon class="mk" points="654.4,1444.15 662.02,1448.55 662.02,1457.35 654.4,1461.75 646.78,1457.35 646.78,1448.55" fill="#7D4E4E" stroke="#7D4E4E"/>
<polygon class="mk" points="746.63,1521.88 754.25,1526.28 754.25,1535.08 746.63,1539.48 739.01,1535.08 739.01,1526.28" fill="#7D4E4E" stroke="#7D4E4E"/>
<polygon class="mk" points="838.87,1530.2 846.49,1534.6 846.49,1543.4 838.87,1547.8 831.25,1543.4 831.25,1534.6" fill="#7D4E4E" stroke="#7D4E4E"/>
<polyline class="ln" stroke="#8E8E00" points="193.23,1031.03 285.47,1119.85 377.7,1258.64 469.93,1386.33 562.17,1441.85 654.4,1433.52 746.63,1530.68 838.87,1536.23"/>
<polygon class="mk" points="193.23,1021.93 195.38,1028.07 201.89,1028.21 196.7,1032.15 198.58,1038.39 193.23,1034.68 187.88,1038.39 189.76,1032.15 184.58,1028.21 191.09,1028.07" fill="#8E8E00" stroke="#8E8E00"/>
<polygon class="mk" points="285.47,1110.75 287.61,1116.9 294.12,1117.04 288.94,1120.98 290.82,1127.22 285.47,1123.5 280.12,1127.22 282,1120.98 276.81,1117.04 283.32,1116.9" fill="#8E8E00" stroke="#8E8E00"/>
<polygon class="mk" points="377.7,1249.55 379.85,1255.69 386.35,1255.83 381.17,1259.77 383.05,1266.01 377.7,1262.3 372.35,1266.01 374.23,1259.77 369.05,1255.83 375.55,1255.69" fill="#8E8E00" stroke="#8E8E00"/>
<polygon class="mk" points="469.93,1377.23 472.08,1383.38 478.59,1383.52 473.4,1387.46 475.28,1393.7 469.93,1389.98 464.58,1393.7 466.46,1387.46 461.28,1383.52 467.79,1383.38" fill="#8E8E00" stroke="#8E8E00"/>
<polygon class="mk" points="562.17,1432.75 564.31,1438.9 570.82,1439.04 565.64,1442.98 567.52,1449.21 562.17,1445.5 556.82,1449.21 558.7,1442.98 553.51,1439.04 560.02,1438.9" fill="#8E8E00" stroke="#8E8E00"/>
<polygon class="mk" points="654.4,1424.42 656.55,1430.57 663.05,1430.71 657.87,1434.65 659.75,1440.88 654.4,1437.17 649.05,1440.88 650.93,1434.65 645.75,1430.71 652.25,1430.57" fill="#8E8E00" stroke="#8E8E00"/>
<polygon class="mk" points="746.63,1521.58 748.78,1527.72 755.29,1527.86 750.1,1531.8 751.98,1538.04 746.63,1534.33 741.28,1538.04 743.16,1531.8 737.98,1527.86 744.49,1527.72" fill="#8E8E00" stroke="#8E8E00"/>
<polygon class="mk" points="838.87,1527.13 841.01,1533.28 847.52,1533.42 842.34,1537.36 844.22,1543.59 838.87,1539.88 833.52,1543.59 835.4,1537.36 830.21,1533.42 836.72,1533.28" fill="#8E8E00" stroke="#8E8E00"/>
<polyline class="ln" stroke="#FB6501" points="193.23,1028.25 285.47,1114.3 377.7,1250.32 469.93,1380.78 562.17,1430.75 654.4,1427.97 746.63,1527.9 838.87,1539"/>
<polygon class="mk" points="193.23,1019.25 201.79,1025.47 198.52,1035.53 187.94,1035.53 184.67,1025.47" fill="#FB6501" stroke="#FB6501"/>
<polygon class="mk" points="285.47,1105.3 294.03,1111.52 290.76,1121.58 280.18,1121.58 276.91,1111.52" fill="#FB6501" stroke="#FB6501"/>
<polygon class="mk" points="377.7,1241.32 386.26,1247.54 382.99,1257.6 372.41,1257.6 369.14,1247.54" fill="#FB6501" stroke="#FB6501"/>
<polygon class="mk" points="469.93,1371.78 478.49,1378 475.22,1388.06 464.64,1388.06 461.37,1378" fill="#FB6501" stroke="#FB6501"/>
<polygon class="mk" points="562.17,1421.75 570.73,1427.97 567.46,1438.03 556.88,1438.03 553.61,1427.97" fill="#FB6501" stroke="#FB6501"/>
<polygon class="mk" points="654.4,1418.97 662.96,1425.19 659.69,1435.25 649.11,1435.25 645.84,1425.19" fill="#FB6501" stroke="#FB6501"/>
<polygon class="mk" points="746.63,1518.9 755.19,1525.12 751.92,1535.18 741.34,1535.18 738.07,1525.12" fill="#FB6501" stroke="#FB6501"/>
<polygon class="mk" points="838.87,1530 847.43,1536.22 844.16,1546.29 833.58,1546.29 830.31,1536.22" fill="#FB6501" stroke="#FB6501"/>
</g>
<path class="ax" d="M101 940.8V1608.4H932.5"/>
<path class="tkl" d="M101 942.2h12.6M101 1053.23h12.6M101 1164.27h12.6M101 1275.3h12.6M101 1386.33h12.6M101 1497.37h12.6M101 1608.4h12.6M101 997.72h6.5M101 1108.75h6.5M101 1219.78h6.5M101 1330.82h6.5M101 1441.85h6.5M101 1552.88h6.5M147.12 1608.4v-6.5M193.23 1608.4v-12.6M239.35 1608.4v-6.5M285.47 1608.4v-12.6M331.58 1608.4v-6.5M377.7 1608.4v-12.6M423.82 1608.4v-6.5M469.93 1608.4v-12.6M516.05 1608.4v-6.5M562.17 1608.4v-12.6M608.28 1608.4v-6.5M654.4 1608.4v-12.6M700.52 1608.4v-6.5M746.63 1608.4v-12.6M792.75 1608.4v-6.5M838.87 1608.4v-12.6M884.98 1608.4v-6.5M931.1 1608.4v-12.6"/>
<text class="tk" transform="translate(72.2 953.9) scale(0.93 1.05)" x="-7.8 7.8" y="0">14</text>
<text class="tk" transform="translate(72.2 1064.93) scale(0.93 1.05)" x="-7.8 7.8" y="0">12</text>
<text class="tk" transform="translate(72.2 1175.97) scale(0.93 1.05)" x="-7.8 7.8" y="0">10</text>
<text class="tk" transform="translate(79.45 1287) scale(0.93 1.05)" x="0" y="0">8</text>
<text class="tk" transform="translate(79.45 1398.03) scale(0.93 1.05)" x="0" y="0">6</text>
<text class="tk" transform="translate(79.45 1509.07) scale(0.93 1.05)" x="0" y="0">4</text>
<text class="tk" transform="translate(79.45 1620.1) scale(0.93 1.05)" x="0" y="0">2</text>
<text class="tk" transform="translate(193.23 1648) scale(0.93 1.05)" x="-15.59 -3.87 15.59" y="0">0.1</text>
<text class="tk" transform="translate(285.47 1648) scale(0.93 1.05)" x="-15.59 -3.87 15.59" y="0">0.2</text>
<text class="tk" transform="translate(377.7 1648) scale(0.93 1.05)" x="-15.59 -3.87 15.59" y="0">0.3</text>
<text class="tk" transform="translate(469.93 1648) scale(0.93 1.05)" x="-15.59 -3.87 15.59" y="0">0.4</text>
<text class="tk" transform="translate(562.17 1648) scale(0.93 1.05)" x="-15.59 -3.87 15.59" y="0">0.5</text>
<text class="tk" transform="translate(654.4 1648) scale(0.93 1.05)" x="-15.59 -3.87 15.59" y="0">0.6</text>
<text class="tk" transform="translate(746.63 1648) scale(0.93 1.05)" x="-15.59 -3.87 15.59" y="0">0.7</text>
<text class="tk" transform="translate(838.87 1648) scale(0.93 1.05)" x="-15.59 -3.87 15.59" y="0">0.8</text>
<text class="xt" x="516.05" y="1693.4">c</text>
<text class="yt" transform="translate(44.4 1275.7) rotate(-90)">PC-NFT-Average(t)</text>
<text class="cap" x="133.8" y="1756.5">(c) PC-NFT<tspan dx="-3.6">-</tspan>Ranking the top 10 resource nodes</text>
<g class="legend">
<rect class="lb" x="770.1" y="962" width="207" height="431"/>
<path class="ln ll" stroke="#515151" d="M775 985.15H844.2"/>
<rect class="mk" x="802.4" y="978.15" width="14" height="14" fill="#515151" stroke="#515151"/>
<text class="lg" x="861.5" y="998.45">node 1</text>
<path class="ln ll" stroke="#F14040" d="M775 1027.8H844.2"/>
<circle cx="809.4" cy="1027.8" r="8.55" fill="#F14040"/>
<text class="lg" x="861.5" y="1041.1">node 20</text>
<path class="ln ll" stroke="#1A6FDF" d="M775 1070.45H844.2"/>
<polygon class="mk" points="809.4,1059.45 819,1076 799.8,1076" fill="#1A6FDF" stroke="#1A6FDF"/>
<text class="lg" x="861.5" y="1083.75">node 11</text>
<path class="ln ll" stroke="#37AD6B" d="M775 1113.1H844.2"/>
<polygon class="mk" points="809.4,1124.1 819,1107.55 799.8,1107.55" fill="#37AD6B" stroke="#37AD6B"/>
<text class="lg" x="861.5" y="1126.4">node 9</text>
<path class="ln ll" stroke="#B177DE" d="M775 1155.75H844.2"/>
<polygon class="mk" points="809.4,1145.75 819.4,1155.75 809.4,1165.75 799.4,1155.75" fill="#B177DE" stroke="#B177DE"/>
<text class="lg" x="861.5" y="1169.05">node 6</text>
<path class="ln ll" stroke="#CC9900" d="M775 1198.4H844.2"/>
<polygon class="mk" points="798.4,1198.4 814.95,1188.8 814.95,1208" fill="#CC9900" stroke="#CC9900"/>
<text class="lg" x="861.5" y="1211.7">node 16</text>
<path class="ln ll" stroke="#00CBCC" d="M775 1241.05H844.2"/>
<polygon class="mk" points="820.4,1241.05 803.85,1231.45 803.85,1250.65" fill="#00CBCC" stroke="#00CBCC"/>
<text class="lg" x="861.5" y="1254.35">node 18</text>
<path class="ln ll" stroke="#7D4E4E" d="M775 1283.7H844.2"/>
<polygon class="mk" points="809.4,1274.9 817.02,1279.3 817.02,1288.1 809.4,1292.5 801.78,1288.1 801.78,1279.3" fill="#7D4E4E" stroke="#7D4E4E"/>
<text class="lg" x="861.5" y="1297">node 12</text>
<path class="ln ll" stroke="#8E8E00" d="M775 1326.35H844.2"/>
<polygon class="mk" points="809.4,1317.25 811.55,1323.4 818.05,1323.54 812.87,1327.48 814.75,1333.71 809.4,1330 804.05,1333.71 805.93,1327.48 800.75,1323.54 807.25,1323.4" fill="#8E8E00" stroke="#8E8E00"/>
<text class="lg" x="861.5" y="1339.65">node 17</text>
<path class="ln ll" stroke="#FB6501" d="M775 1369H844.2"/>
<polygon class="mk" points="809.4,1360 817.96,1366.22 814.69,1376.28 804.11,1376.28 800.84,1366.22" fill="#FB6501" stroke="#FB6501"/>
<text class="lg" x="861.5" y="1382.3">node 10</text>
</g>
</g>
<g id="panel-d">
<g class="series">
<polyline class="ln" stroke="#515151" points="1230.53,1028.25 1322.82,1114.3 1415.1,1247.54 1507.38,1378.01 1599.67,1427.97 1691.95,1427.97 1784.23,1530.68 1876.52,1539"/>
<rect class="mk" x="1223.53" y="1021.25" width="14" height="14" fill="#515151" stroke="#515151"/>
<rect class="mk" x="1315.82" y="1107.3" width="14" height="14" fill="#515151" stroke="#515151"/>
<rect class="mk" x="1408.1" y="1240.54" width="14" height="14" fill="#515151" stroke="#515151"/>
<rect class="mk" x="1500.38" y="1371.01" width="14" height="14" fill="#515151" stroke="#515151"/>
<rect class="mk" x="1592.67" y="1420.97" width="14" height="14" fill="#515151" stroke="#515151"/>
<rect class="mk" x="1684.95" y="1420.97" width="14" height="14" fill="#515151" stroke="#515151"/>
<rect class="mk" x="1777.23" y="1523.68" width="14" height="14" fill="#515151" stroke="#515151"/>
<rect class="mk" x="1869.52" y="1532" width="14" height="14" fill="#515151" stroke="#515151"/>
<polyline class="ln" stroke="#F14040" points="1230.53,1031.03 1322.82,1117.08 1415.1,1253.09 1507.38,1380.78 1599.67,1433.52 1691.95,1433.52 1784.23,1530.68 1876.52,1539"/>
<circle cx="1230.53" cy="1031.03" r="8.55" fill="#F14040"/>
<circle cx="1322.82" cy="1117.08" r="8.55" fill="#F14040"/>
<circle cx="1415.1" cy="1253.09" r="8.55" fill="#F14040"/>
<circle cx="1507.38" cy="1380.78" r="8.55" fill="#F14040"/>
<circle cx="1599.67" cy="1433.52" r="8.55" fill="#F14040"/>
<circle cx="1691.95" cy="1433.52" r="8.55" fill="#F14040"/>
<circle cx="1784.23" cy="1530.68" r="8.55" fill="#F14040"/>
<circle cx="1876.52" cy="1539" r="8.55" fill="#F14040"/>
<polyline class="ln" stroke="#1A6FDF" points="1230.53,1028.25 1322.82,1119.85 1415.1,1255.87 1507.38,1386.33 1599.67,1439.07 1691.95,1441.85 1784.23,1536.23 1876.52,1522.35"/>
<polygon class="mk" points="1230.53,1017.25 1240.13,1033.8 1220.93,1033.8" fill="#1A6FDF" stroke="#1A6FDF"/>
<polygon class="mk" points="1322.82,1108.85 1332.42,1125.4 1313.22,1125.4" fill="#1A6FDF" stroke="#1A6FDF"/>
<polygon class="mk" points="1415.1,1244.87 1424.7,1261.42 1405.5,1261.42" fill="#1A6FDF" stroke="#1A6FDF"/>
<polygon class="mk" points="1507.38,1375.33 1516.98,1391.88 1497.78,1391.88" fill="#1A6FDF" stroke="#1A6FDF"/>
<polygon class="mk" points="1599.67,1428.07 1609.27,1444.62 1590.07,1444.62" fill="#1A6FDF" stroke="#1A6FDF"/>
<polygon class="mk" points="1691.95,1430.85 1701.55,1447.4 1682.35,1447.4" fill="#1A6FDF" stroke="#1A6FDF"/>
<polygon class="mk" points="1784.23,1525.23 1793.83,1541.78 1774.63,1541.78" fill="#1A6FDF" stroke="#1A6FDF"/>
<polygon class="mk" points="1876.52,1511.35 1886.12,1527.9 1866.92,1527.9" fill="#1A6FDF" stroke="#1A6FDF"/>
<polyline class="ln" stroke="#37AD6B" points="1230.53,1036.58 1322.82,1125.41 1415.1,1261.42 1507.38,1386.33 1599.67,1441.85 1691.95,1441.85 1784.23,1530.68 1876.52,1536.23"/>
<polygon class="mk" points="1230.53,1047.58 1240.13,1031.03 1220.93,1031.03" fill="#37AD6B" stroke="#37AD6B"/>
<polygon class="mk" points="1322.82,1136.41 1332.42,1119.86 1313.22,1119.86" fill="#37AD6B" stroke="#37AD6B"/>
<polygon class="mk" points="1415.1,1272.42 1424.7,1255.87 1405.5,1255.87" fill="#37AD6B" stroke="#37AD6B"/>
<polygon class="mk" points="1507.38,1397.33 1516.98,1380.78 1497.78,1380.78" fill="#37AD6B" stroke="#37AD6B"/>
<polygon class="mk" points="1599.67,1452.85 1609.27,1436.3 1590.07,1436.3" fill="#37AD6B" stroke="#37AD6B"/>
<polygon class="mk" points="1691.95,1452.85 1701.55,1436.3 1682.35,1436.3" fill="#37AD6B" stroke="#37AD6B"/>
<polygon class="mk" points="1784.23,1541.68 1793.83,1525.13 1774.63,1525.13" fill="#37AD6B" stroke="#37AD6B"/>
<polygon class="mk" points="1876.52,1547.23 1886.12,1530.68 1866.92,1530.68" fill="#37AD6B" stroke="#37AD6B"/>
<polyline class="ln" stroke="#B177DE" points="1230.53,1039.35 1322.82,1119.85 1415.1,1266.97 1507.38,1378.01 1599.67,1444.63 1691.95,1447.4 1784.23,1533.45 1876.52,1539"/>
<polygon class="mk" points="1230.53,1029.35 1240.53,1039.35 1230.53,1049.35 1220.53,1039.35" fill="#B177DE" stroke="#B177DE"/>
<polygon class="mk" points="1322.82,1109.85 1332.82,1119.85 1322.82,1129.85 1312.82,1119.85" fill="#B177DE" stroke="#B177DE"/>
<polygon class="mk" points="1415.1,1256.97 1425.1,1266.97 1415.1,1276.97 1405.1,1266.97" fill="#B177DE" stroke="#B177DE"/>
<polygon class="mk" points="1507.38,1368.01 1517.38,1378.01 1507.38,1388.01 1497.38,1378.01" fill="#B177DE" stroke="#B177DE"/>
<polygon class="mk" points="1599.67,1434.63 1609.67,1444.63 1599.67,1454.63 1589.67,1444.63" fill="#B177DE" stroke="#B177DE"/>
<polygon class="mk" points="1691.95,1437.4 1701.95,1447.4 1691.95,1457.4 1681.95,1447.4" fill="#B177DE" stroke="#B177DE"/>
<polygon class="mk" points="1784.23,1523.45 1794.23,1533.45 1784.23,1543.45 1774.23,1533.45" fill="#B177DE" stroke="#B177DE"/>
<polygon class="mk" points="1876.52,1529 1886.52,1539 1876.52,1549 1866.52,1539" fill="#B177DE" stroke="#B177DE"/>
<polyline class="ln" stroke="#CC9900" points="1230.53,1033.8 1322.82,1122.63 1415.1,1253.09 1507.38,1383.56 1599.67,1436.3 1691.95,1439.07 1784.23,1530.68 1876.52,1536.23"/>
<polygon class="mk" points="1219.53,1033.8 1236.08,1024.2 1236.08,1043.4" fill="#CC9900" stroke="#CC9900"/>
<polygon class="mk" points="1311.82,1122.63 1328.37,1113.03 1328.37,1132.23" fill="#CC9900" stroke="#CC9900"/>
<polygon class="mk" points="1404.1,1253.09 1420.65,1243.49 1420.65,1262.69" fill="#CC9900" stroke="#CC9900"/>
<polygon class="mk" points="1496.38,1383.56 1512.93,1373.96 1512.93,1393.16" fill="#CC9900" stroke="#CC9900"/>
<polygon class="mk" points="1588.67,1436.3 1605.22,1426.7 1605.22,1445.9" fill="#CC9900" stroke="#CC9900"/>
<polygon class="mk" points="1680.95,1439.07 1697.5,1429.47 1697.5,1448.67" fill="#CC9900" stroke="#CC9900"/>
<polygon class="mk" points="1773.23,1530.68 1789.78,1521.08 1789.78,1540.28" fill="#CC9900" stroke="#CC9900"/>
<polygon class="mk" points="1865.52,1536.23 1882.07,1526.63 1882.07,1545.83" fill="#CC9900" stroke="#CC9900"/>
<polyline class="ln" stroke="#00CBCC" points="1230.53,1031.03 1322.82,1114.3 1415.1,1258.64 1507.38,1383.56 1599.67,1433.52 1691.95,1436.3 1784.23,1536.23 1876.52,1527.9"/>
<polygon class="mk" points="1241.53,1031.03 1224.98,1021.43 1224.98,1040.63" fill="#00CBCC" stroke="#00CBCC"/>
<polygon class="mk" points="1333.82,1114.3 1317.27,1104.7 1317.27,1123.9" fill="#00CBCC" stroke="#00CBCC"/>
<polygon class="mk" points="1426.1,1258.64 1409.55,1249.05 1409.55,1268.24" fill="#00CBCC" stroke="#00CBCC"/>
<polygon class="mk" points="1518.38,1383.56 1501.83,1373.96 1501.83,1393.16" fill="#00CBCC" stroke="#00CBCC"/>
<polygon class="mk" points="1610.67,1433.52 1594.12,1423.92 1594.12,1443.12" fill="#00CBCC" stroke="#00CBCC"/>
<polygon class="mk" points="1702.95,1436.3 1686.4,1426.7 1686.4,1445.9" fill="#00CBCC" stroke="#00CBCC"/>
<polygon class="mk" points="1795.23,1536.23 1778.68,1526.63 1778.68,1545.83" fill="#00CBCC" stroke="#00CBCC"/>
<polygon class="mk" points="1887.52,1527.9 1870.97,1518.3 1870.97,1537.5" fill="#00CBCC" stroke="#00CBCC"/>
<polyline class="ln" stroke="#7D4E4E" points="1230.53,1028.25 1322.82,1117.08 1415.1,1247.54 1507.38,1383.56 1599.67,1430.75 1691.95,1433.52 1784.23,1525.12 1876.52,1539"/>
<polygon class="mk" points="1230.53,1019.45 1238.15,1023.85 1238.15,1032.65 1230.53,1037.05 1222.91,1032.65 1222.91,1023.85" fill="#7D4E4E" stroke="#7D4E4E"/>
<polygon class="mk" points="1322.82,1108.28 1330.44,1112.68 1330.44,1121.48 1322.82,1125.88 1315.2,1121.48 1315.2,1112.68" fill="#7D4E4E" stroke="#7D4E4E"/>
<polygon class="mk" points="1415.1,1238.74 1422.72,1243.14 1422.72,1251.94 1415.1,1256.34 1407.48,1251.94 1407.48,1243.14" fill="#7D4E4E" stroke="#7D4E4E"/>
<polygon class="mk" points="1507.38,1374.76 1515,1379.16 1515,1387.96 1507.38,1392.36 1499.76,1387.96 1499.76,1379.16" fill="#7D4E4E" stroke="#7D4E4E"/>
<polygon class="mk" points="1599.67,1421.95 1607.29,1426.35 1607.29,1435.15 1599.67,1439.55 1592.05,1435.15 1592.05,1426.35" fill="#7D4E4E" stroke="#7D4E4E"/>
<polygon class="mk" points="1691.95,1424.72 1699.57,1429.12 1699.57,1437.92 1691.95,1442.32 1684.33,1437.92 1684.33,1429.12" fill="#7D4E4E" stroke="#7D4E4E"/>
<polygon class="mk" points="1784.23,1516.33 1791.85,1520.72 1791.85,1529.53 1784.23,1533.92 1776.61,1529.53 1776.61,1520.72" fill="#7D4E4E" stroke="#7D4E4E"/>
<polygon class="mk" points="1876.52,1530.2 1884.14,1534.6 1884.14,1543.4 1876.52,1547.8 1868.9,1543.4 1868.9,1534.6" fill="#7D4E4E" stroke="#7D4E4E"/>
<polyline class="ln" stroke="#8E8E00" points="1230.53,1033.8 1322.82,1117.08 1415.1,1253.09 1507.38,1383.56 1599.67,1436.3 1691.95,1439.07 1784.23,1530.68 1876.52,1536.23"/>
<polygon class="mk" points="1230.53,1024.7 1232.68,1030.85 1239.19,1030.99 1234,1034.93 1235.88,1041.16 1230.53,1037.45 1225.18,1041.16 1227.06,1034.93 1221.88,1030.99 1228.39,1030.85" fill="#8E8E00" stroke="#8E8E00"/>
<polygon class="mk" points="1322.82,1107.98 1324.96,1114.12 1331.47,1114.27 1326.29,1118.21 1328.17,1124.44 1322.82,1120.73 1317.47,1124.44 1319.35,1118.21 1314.16,1114.27 1320.67,1114.12" fill="#8E8E00" stroke="#8E8E00"/>
<polygon class="mk" points="1415.1,1243.99 1417.25,1250.14 1423.75,1250.28 1418.57,1254.22 1420.45,1260.46 1415.1,1256.74 1409.75,1260.46 1411.63,1254.22 1406.45,1250.28 1412.95,1250.14" fill="#8E8E00" stroke="#8E8E00"/>
<polygon class="mk" points="1507.38,1374.46 1509.53,1380.6 1516.04,1380.75 1510.85,1384.69 1512.73,1390.92 1507.38,1387.21 1502.03,1390.92 1503.91,1384.69 1498.73,1380.75 1505.24,1380.6" fill="#8E8E00" stroke="#8E8E00"/>
<polygon class="mk" points="1599.67,1427.2 1601.81,1433.35 1608.32,1433.49 1603.14,1437.43 1605.02,1443.66 1599.67,1439.95 1594.32,1443.66 1596.2,1437.43 1591.01,1433.49 1597.52,1433.35" fill="#8E8E00" stroke="#8E8E00"/>
<polygon class="mk" points="1691.95,1429.97 1694.1,1436.12 1700.6,1436.26 1695.42,1440.2 1697.3,1446.44 1691.95,1442.72 1686.6,1446.44 1688.48,1440.2 1683.3,1436.26 1689.8,1436.12" fill="#8E8E00" stroke="#8E8E00"/>
<polygon class="mk" points="1784.23,1521.58 1786.38,1527.72 1792.89,1527.86 1787.7,1531.8 1789.58,1538.04 1784.23,1534.33 1778.88,1538.04 1780.76,1531.8 1775.58,1527.86 1782.09,1527.72" fill="#8E8E00" stroke="#8E8E00"/>
<polygon class="mk" points="1876.52,1527.13 1878.66,1533.28 1885.17,1533.42 1879.99,1537.36 1881.87,1543.59 1876.52,1539.88 1871.17,1543.59 1873.05,1537.36 1867.86,1533.42 1874.37,1533.28" fill="#8E8E00" stroke="#8E8E00"/>
<polyline class="ln" stroke="#FB6501" points="1230.53,1033.8 1322.82,1117.08 1415.1,1250.32 1507.38,1389.11 1599.67,1439.07 1691.95,1447.4 1784.23,1533.45 1876.52,1539"/>
<polygon class="mk" points="1230.53,1024.8 1239.09,1031.02 1235.82,1041.08 1225.24,1041.08 1221.97,1031.02" fill="#FB6501" stroke="#FB6501"/>
<polygon class="mk" points="1322.82,1108.08 1331.38,1114.3 1328.11,1124.36 1317.53,1124.36 1314.26,1114.3" fill="#FB6501" stroke="#FB6501"/>
<polygon class="mk" points="1415.1,1241.32 1423.66,1247.54 1420.39,1257.6 1409.81,1257.6 1406.54,1247.54" fill="#FB6501" stroke="#FB6501"/>
<polygon class="mk" points="1507.38,1380.11 1515.94,1386.33 1512.67,1396.39 1502.09,1396.39 1498.82,1386.33" fill="#FB6501" stroke="#FB6501"/>
<polygon class="mk" points="1599.67,1430.07 1608.23,1436.29 1604.96,1446.36 1594.38,1446.36 1591.11,1436.29" fill="#FB6501" stroke="#FB6501"/>
<polygon class="mk" points="1691.95,1438.4 1700.51,1444.62 1697.24,1454.68 1686.66,1454.68 1683.39,1444.62" fill="#FB6501" stroke="#FB6501"/>
<polygon class="mk" points="1784.23,1524.45 1792.79,1530.67 1789.52,1540.73 1778.94,1540.73 1775.67,1530.67" fill="#FB6501" stroke="#FB6501"/>
<polygon class="mk" points="1876.52,1530 1885.08,1536.22 1881.81,1546.29 1871.23,1546.29 1867.96,1536.22" fill="#FB6501" stroke="#FB6501"/>
</g>
<path class="ax" d="M1138.55 940.8V1608.4H1970.2"/>
<path class="tkl" d="M1138.55 942.2h12.6M1138.55 1053.23h12.6M1138.55 1164.27h12.6M1138.55 1275.3h12.6M1138.55 1386.33h12.6M1138.55 1497.37h12.6M1138.55 1608.4h12.6M1138.55 997.72h6.5M1138.55 1108.75h6.5M1138.55 1219.78h6.5M1138.55 1330.82h6.5M1138.55 1441.85h6.5M1138.55 1552.88h6.5M1184.39 1608.4v-6.5M1230.53 1608.4v-12.6M1276.67 1608.4v-6.5M1322.82 1608.4v-12.6M1368.96 1608.4v-6.5M1415.1 1608.4v-12.6M1461.24 1608.4v-6.5M1507.38 1608.4v-12.6M1553.53 1608.4v-6.5M1599.67 1608.4v-12.6M1645.81 1608.4v-6.5M1691.95 1608.4v-12.6M1738.09 1608.4v-6.5M1784.23 1608.4v-12.6M1830.38 1608.4v-6.5M1876.52 1608.4v-12.6M1922.66 1608.4v-6.5M1968.8 1608.4v-12.6"/>
<text class="tk" transform="translate(1109.75 953.9) scale(0.93 1.05)" x="-7.8 7.8" y="0">14</text>
<text class="tk" transform="translate(1109.75 1064.93) scale(0.93 1.05)" x="-7.8 7.8" y="0">12</text>
<text class="tk" transform="translate(1109.75 1175.97) scale(0.93 1.05)" x="-7.8 7.8" y="0">10</text>
<text class="tk" transform="translate(1117 1287) scale(0.93 1.05)" x="0" y="0">8</text>
<text class="tk" transform="translate(1117 1398.03) scale(0.93 1.05)" x="0" y="0">6</text>
<text class="tk" transform="translate(1117 1509.07) scale(0.93 1.05)" x="0" y="0">4</text>
<text class="tk" transform="translate(1117 1620.1) scale(0.93 1.05)" x="0" y="0">2</text>
<text class="tk" transform="translate(1230.53 1648) scale(0.93 1.05)" x="-15.59 -3.87 15.59" y="0">0.1</text>
<text class="tk" transform="translate(1322.82 1648) scale(0.93 1.05)" x="-15.59 -3.87 15.59" y="0">0.2</text>
<text class="tk" transform="translate(1415.1 1648) scale(0.93 1.05)" x="-15.59 -3.87 15.59" y="0">0.3</text>
<text class="tk" transform="translate(1507.38 1648) scale(0.93 1.05)" x="-15.59 -3.87 15.59" y="0">0.4</text>
<text class="tk" transform="translate(1599.67 1648) scale(0.93 1.05)" x="-15.59 -3.87 15.59" y="0">0.5</text>
<text class="tk" transform="translate(1691.95 1648) scale(0.93 1.05)" x="-15.59 -3.87 15.59" y="0">0.6</text>
<text class="tk" transform="translate(1784.23 1648) scale(0.93 1.05)" x="-15.59 -3.87 15.59" y="0">0.7</text>
<text class="tk" transform="translate(1876.52 1648) scale(0.93 1.05)" x="-15.59 -3.87 15.59" y="0">0.8</text>
<text class="xt" x="1553.67" y="1693.4">c</text>
<text class="yt" transform="translate(1081.1 1275.7) rotate(-90)">PC-NFT-Average(t)</text>
<text class="cap" x="1179.3" y="1756.5">(d) PC-NFT<tspan dx="-3.6">-</tspan> resource nodes of the last 10</text>
<g class="legend">
<rect class="lb" x="1800.1" y="946.1" width="207" height="431"/>
<path class="ln ll" stroke="#515151" d="M1805 969.25H1874.2"/>
<rect class="mk" x="1832.4" y="962.25" width="14" height="14" fill="#515151" stroke="#515151"/>
<text class="lg" x="1891.5" y="982.55">node 5</text>
<path class="ln ll" stroke="#F14040" d="M1805 1011.9H1874.2"/>
<circle cx="1839.4" cy="1011.9" r="8.55" fill="#F14040"/>
<text class="lg" x="1891.5" y="1025.2">node 15</text>
<path class="ln ll" stroke="#1A6FDF" d="M1805 1054.55H1874.2"/>
<polygon class="mk" points="1839.4,1043.55 1849,1060.1 1829.8,1060.1" fill="#1A6FDF" stroke="#1A6FDF"/>
<text class="lg" x="1891.5" y="1067.85">node 2</text>
<path class="ln ll" stroke="#37AD6B" d="M1805 1097.2H1874.2"/>
<polygon class="mk" points="1839.4,1108.2 1849,1091.65 1829.8,1091.65" fill="#37AD6B" stroke="#37AD6B"/>
<text class="lg" x="1891.5" y="1110.5">node 14</text>
<path class="ln ll" stroke="#B177DE" d="M1805 1139.85H1874.2"/>
<polygon class="mk" points="1839.4,1129.85 1849.4,1139.85 1839.4,1149.85 1829.4,1139.85" fill="#B177DE" stroke="#B177DE"/>
<text class="lg" x="1891.5" y="1153.15">node 7</text>
<path class="ln ll" stroke="#CC9900" d="M1805 1182.5H1874.2"/>
<polygon class="mk" points="1828.4,1182.5 1844.95,1172.9 1844.95,1192.1" fill="#CC9900" stroke="#CC9900"/>
<text class="lg" x="1891.5" y="1195.8">node 8</text>
<path class="ln ll" stroke="#00CBCC" d="M1805 1225.15H1874.2"/>
<polygon class="mk" points="1850.4,1225.15 1833.85,1215.55 1833.85,1234.75" fill="#00CBCC" stroke="#00CBCC"/>
<text class="lg" x="1891.5" y="1238.45">node 4</text>
<path class="ln ll" stroke="#7D4E4E" d="M1805 1267.8H1874.2"/>
<polygon class="mk" points="1839.4,1259 1847.02,1263.4 1847.02,1272.2 1839.4,1276.6 1831.78,1272.2 1831.78,1263.4" fill="#7D4E4E" stroke="#7D4E4E"/>
<text class="lg" x="1891.5" y="1281.1">node 19</text>
<path class="ln ll" stroke="#8E8E00" d="M1805 1310.45H1874.2"/>
<polygon class="mk" points="1839.4,1301.35 1841.55,1307.5 1848.05,1307.64 1842.87,1311.58 1844.75,1317.81 1839.4,1314.1 1834.05,1317.81 1835.93,1311.58 1830.75,1307.64 1837.25,1307.5" fill="#8E8E00" stroke="#8E8E00"/>
<text class="lg" x="1891.5" y="1323.75">node 13</text>
<path class="ln ll" stroke="#FB6501" d="M1805 1353.1H1874.2"/>
<polygon class="mk" points="1839.4,1344.1 1847.96,1350.32 1844.69,1360.38 1834.11,1360.38 1830.84,1350.32" fill="#FB6501" stroke="#FB6501"/>
<text class="lg" x="1891.5" y="1366.4">node 3</text>
</g>
</g>
</svg>
</body>
</html>
